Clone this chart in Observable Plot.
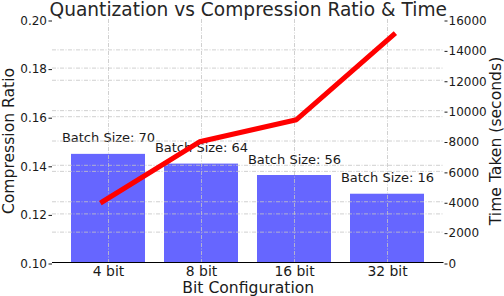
<!DOCTYPE html>
<html><head><meta charset="utf-8">
<script src="https://cdn.jsdelivr.net/npm/d3@7"></script>
<script src="https://cdn.jsdelivr.net/npm/@observablehq/plot@0.6"></script>
<style>
body{margin:0;background:#fff}
#c{position:relative;width:504px;height:296px;overflow:hidden}
#c svg{position:absolute;left:0;top:0;overflow:visible}
</style>
</head><body><div id="c"></div>
<script>
const bits = ["4 bit", "8 bit", "16 bit", "32 bit"];
const compressionRatio = [0.1445, 0.1405, 0.1358, 0.1281];
const timeTaken = [4000, 7950, 9400, 15000];
const batchSizes = [70, 64, 56, 16];
const ratioTicks = [0.10, 0.12, 0.14, 0.16, 0.18, 0.20];
const timeTicks = [0, 2000, 4000, 6000, 8000, 10000, 12000, 14000, 16000];
const titleText = "Quantization vs Compression Ratio & Time";
const xLabel = "Bit Configuration";
const yLabelLeft = "Compression Ratio";
const yLabelRight = "Time Taken (seconds)";

const data = bits.map((b, i) => ({bit: b, ratio: compressionRatio[i], time: timeTaken[i], batch: batchSizes[i]}));

const W = 504, H = 296;
const layout = {width: W, height: H, marginLeft: 52, marginRight: 60.5, marginTop: 19, marginBottom: 34};
const font = "DejaVu Sans, sans-serif";
const gridStyle = {stroke: "#c4c4c4", strokeOpacity: 1, strokeWidth: 0.8, strokeDasharray: "4,1.5,1,1.5"};
const xScale = {domain: bits, paddingInner: 0.205, paddingOuter: 0.185};

const p1 = Plot.plot({
  ...layout,
  style: {fontFamily: font, fontSize: "12px", color: "#1a1a1a", background: "transparent", overflow: "visible"},
  x: xScale,
  y: {domain: [0.10, 0.20]},
  marks: [
    Plot.barY(data, {x: "bit", y1: 0.10, y2: "ratio", fill: "#6666ff"}),
    Plot.gridY(ratioTicks.slice(1, -1), gridStyle),
    Plot.gridX(bits, gridStyle),
    Plot.text(data, {x: "bit", y: "ratio", text: d => `Batch Size: ${d.batch}`, dy: -12, lineAnchor: "bottom", fontSize: 13, fill: "#1a1a1a"}),
    Plot.axisY(ratioTicks, {tickFormat: d3.format(".2f"), tickSize: 3.5, tickPadding: 2, label: null, fontSize: 12, dy: 1.5}),
    Plot.axisX({tickSize: 0, tickPadding: 4, label: null, fontSize: 13.9}),
    Plot.ruleY([0.10], {stroke: "#000", strokeWidth: 1}),
    Plot.text([titleText], {frameAnchor: "top", dy: -3.4, lineAnchor: "bottom", fontSize: 18.6, fill: "#262626"}),
    Plot.text([xLabel], {frameAnchor: "bottom", dy: 30.5, lineAnchor: "bottom", fontSize: 15.6, fill: "#1a1a1a"}),
    Plot.text([yLabelLeft], {frameAnchor: "left", textAnchor: "middle", dx: -38.7, rotate: -90, lineAnchor: "bottom", fontSize: 15.6, fill: "#1a1a1a"})
  ]
});

const p2 = Plot.plot({
  ...layout,
  style: {fontFamily: font, fontSize: "12px", color: "#1a1a1a", background: "transparent", overflow: "visible"},
  x: {...xScale, axis: null},
  y: {domain: [0, 16000]},
  marks: [
    Plot.gridY(timeTicks.slice(1, -1), gridStyle),
    Plot.lineY(data, {x: "bit", y: "time", stroke: "#ff0000", strokeWidth: 5, strokeLinecap: "square", strokeLinejoin: "round"}),
    Plot.axisY(timeTicks, {anchor: "right", tickFormat: d => String(d), tickSize: 3, tickPadding: 1.5, label: null, fontSize: 12, dy: 1.5}),
    Plot.text([yLabelRight], {frameAnchor: "right", textAnchor: "middle", dx: 56.5, rotate: -90, lineAnchor: "bottom", fontSize: 15.6, fill: "#1a1a1a"})
  ]
});

const c = document.getElementById("c");
c.appendChild(p1);
c.appendChild(p2);
</script>
</body></html>
